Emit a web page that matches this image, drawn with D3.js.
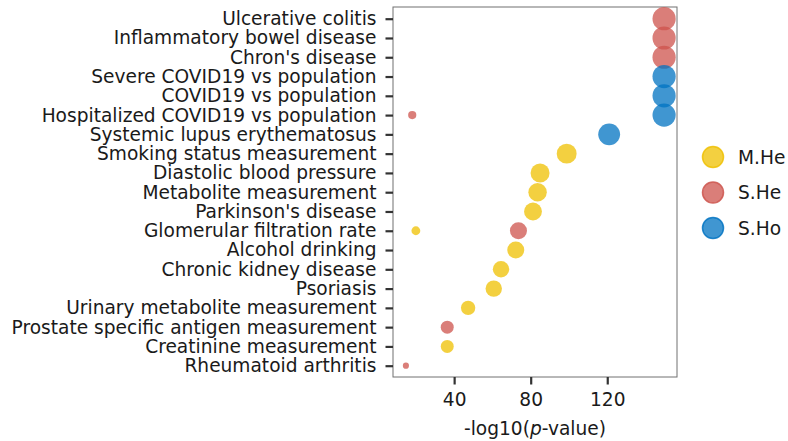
<!DOCTYPE html>
<html>
<head>
<meta charset="utf-8">
<script src="https://cdn.jsdelivr.net/npm/d3@7"></script>
<style>
  html, body { margin: 0; padding: 0; background: #fff; }
  svg { display: block; font-family: "DejaVu Sans", sans-serif; }
</style>
</head>
<body>
<svg id="chart" width="788" height="441"></svg>
<script>
// ---- data ----
const categories = [
  "Ulcerative colitis",
  "Inflammatory bowel disease",
  "Chron's disease",
  "Severe COVID19 vs population",
  "COVID19 vs population",
  "Hospitalized COVID19 vs population",
  "Systemic lupus erythematosus",
  "Smoking status measurement",
  "Diastolic blood pressure",
  "Metabolite measurement",
  "Parkinson's disease",
  "Glomerular filtration rate",
  "Alcohol drinking",
  "Chronic kidney disease",
  "Psoriasis",
  "Urinary metabolite measurement",
  "Prostate specific antigen measurement",
  "Creatinine measurement",
  "Rheumatoid arthritis"
];
const groups = ["M.He", "S.He", "S.Ho"];

// one entry per point
const pointTrait = [
  "Ulcerative colitis", "Inflammatory bowel disease", "Chron's disease",
  "Severe COVID19 vs population", "COVID19 vs population", "Hospitalized COVID19 vs population",
  "Hospitalized COVID19 vs population", "Systemic lupus erythematosus", "Smoking status measurement",
  "Diastolic blood pressure", "Metabolite measurement", "Parkinson's disease",
  "Glomerular filtration rate", "Glomerular filtration rate", "Alcohol drinking",
  "Chronic kidney disease", "Psoriasis", "Urinary metabolite measurement",
  "Prostate specific antigen measurement", "Creatinine measurement", "Rheumatoid arthritis"
];
const pointGroup = [
  "S.He", "S.He", "S.He",
  "S.Ho", "S.Ho", "S.Ho",
  "S.He", "S.Ho", "M.He",
  "M.He", "M.He", "M.He",
  "M.He", "S.He", "M.He",
  "M.He", "M.He", "M.He",
  "S.He", "M.He", "S.He"
];
const pointLogP = [
  149.7, 149.7, 149.7,
  149.7, 149.7, 149.7,
  18.1, 121.0, 98.8,
  84.9, 83.6, 81.2,
  20.0, 73.6, 72.2,
  64.5, 60.7, 47.3,
  36.4, 36.4, 14.8
];
// size variable (relative magnitude)
const pointScore = [
  128, 128, 128,
  128, 128, 128,
  16, 114, 94,
  86, 81, 76,
  18.5, 69, 69,
  64, 64, 49,
  40, 40, 9
];
const xTicks = [40, 80, 120];

// ---- layout ----
const svg = d3.select("#chart");
const panel = { left: 393, right: 677, top: 7, bottom: 377 };
const FONT = "18.6px";

const xMin = d3.min(pointLogP), xMax = d3.max(pointLogP);
const pad = (xMax - xMin) * 0.05;
const x = d3.scaleLinear().domain([xMin - pad, xMax + pad]).range([panel.left, panel.right]);
const y = d3.scalePoint().domain(categories).range([panel.top + 11.7, panel.bottom - 11.3]);
const r = d3.scaleSqrt().domain([0, 128]).range([0, 11.6]);
const color = d3.scaleOrdinal().domain(groups).range(["#EFC000", "#CD534C", "#0073C2"]);

const points = pointTrait.map((t, i) => ({ trait: t, group: pointGroup[i], v: pointLogP[i], s: pointScore[i] }));

// panel background + border
svg.append("rect")
  .attr("x", panel.left).attr("y", panel.top)
  .attr("width", panel.right - panel.left).attr("height", panel.bottom - panel.top)
  .attr("fill", "#fff").attr("stroke", "#707070").attr("stroke-width", 1);

// points
svg.append("g").selectAll("circle").data(points).join("circle")
  .attr("cx", d => x(d.v))
  .attr("cy", d => y(d.trait))
  .attr("r", d => r(d.s))
  .attr("fill", d => color(d.group))
  .attr("fill-opacity", 0.75);

// y axis
const yAxis = svg.append("g")
  .attr("transform", `translate(${panel.left},0)`)
  .call(d3.axisLeft(y).tickSize(7.5).tickPadding(9));
yAxis.select(".domain").remove();
yAxis.selectAll(".tick line").attr("stroke", "#333").attr("stroke-width", 2.2);
yAxis.selectAll(".tick text").attr("fill", "#1a1a1a").style("font-size", FONT)
  .attr("font-family", "DejaVu Sans, sans-serif");

// x axis
const xAxis = svg.append("g")
  .attr("transform", `translate(0,${panel.bottom})`)
  .call(d3.axisBottom(x).tickValues(xTicks).tickSize(7.5).tickPadding(8));
xAxis.select(".domain").remove();
xAxis.selectAll(".tick line").attr("stroke", "#333").attr("stroke-width", 2.2);
xAxis.selectAll(".tick text").attr("fill", "#1a1a1a").style("font-size", FONT)
  .attr("font-family", "DejaVu Sans, sans-serif");

// x title
const title = svg.append("text")
  .attr("x", (panel.left + panel.right) / 2)
  .attr("y", 435)
  .attr("text-anchor", "middle")
  .attr("fill", "#1a1a1a")
  .style("font-size", FONT);
title.append("tspan").text("-log10(");
title.append("tspan").attr("font-style", "italic").text("p");
title.append("tspan").text("-value)");

// legend
const legend = svg.append("g").attr("transform", "translate(713,157)");
const items = legend.selectAll("g").data(groups).join("g")
  .attr("transform", (d, i) => `translate(0,${i * 35.5})`);
items.append("circle")
  .attr("r", 10.5)
  .attr("fill", d => color(d))
  .attr("fill-opacity", 0.75)
  .attr("stroke", d => color(d))
  .attr("stroke-opacity", 0.85)
  .attr("stroke-width", 1.5);
items.append("text")
  .attr("x", 25)
  .attr("y", 0)
  .attr("dy", "0.35em")
  .attr("fill", "#1a1a1a")
  .style("font-size", FONT)
  .text(d => d);
</script>
</body>
</html>
